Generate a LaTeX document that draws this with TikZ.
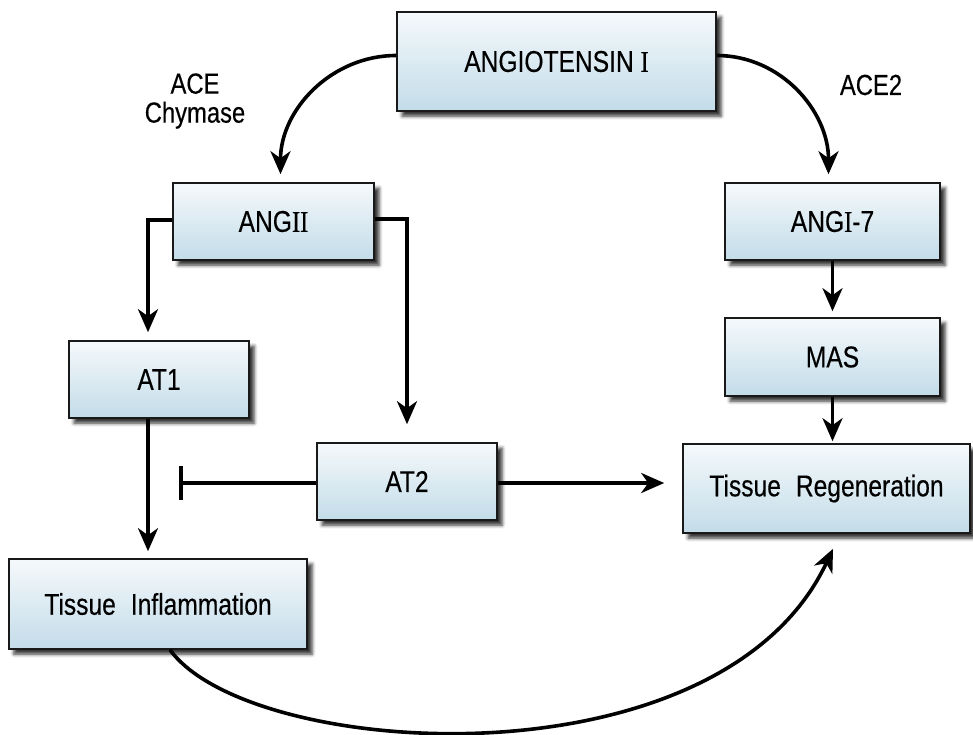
\documentclass[tikz,border=0pt]{standalone}
\usepackage{fontspec}
\setmainfont{Liberation Sans}[FakeStretch=0.82,FakeBold=0.35]
\newfontfamily\romI{Liberation Serif}[FakeStretch=0.82,FakeBold=0.35]
\usetikzlibrary{arrows.meta,shadows.blur,calc}
\definecolor{boxtop}{HTML}{F5F9FB}
\definecolor{boxbot}{HTML}{C3DCE9}
\begin{document}
\begin{tikzpicture}[x=1pt,y=-1pt,
 box/.style={draw=black!90, line width=1.6pt, top color=boxtop, bottom color=boxbot,
   blur shadow={shadow xshift=5pt,shadow yshift=-5pt,shadow blur radius=3.5pt,shadow opacity=80},
   inner sep=0pt, font=\fontsize{30}{34}\selectfont},
 conn/.style={line width=3.6pt, -{Stealth[length=23pt,width=20pt,inset=7pt]}},
 inhib/.style={line width=3.6pt, -{Bar[width=34pt]}},
 lbl/.style={font=\fontsize{29}{29}\selectfont, align=center}]
\useasboundingbox (0,0) rectangle (973,734);

\node[box, minimum width=319pt, minimum height=99pt] (A1) at (556.5,61.5) {ANGIOTENSIN {\romI I}};
\node[box, minimum width=201pt, minimum height=77pt] (ANGII) at (273.5,221.5) {ANG{\romI II}};
\node[box, minimum width=215pt, minimum height=77pt] (ANGI7) at (832.5,221.5) {ANG{\romI I}-7};
\node[box, minimum width=215pt, minimum height=78pt] (MAS) at (832.5,357) {MAS};
\node[box, minimum width=180pt, minimum height=77pt] (AT1) at (159,379.5) {AT1};
\node[box, minimum width=180pt, minimum height=77pt] (AT2) at (407,481.5) {AT2};
\node[box, minimum width=287pt, minimum height=89pt] (TR) at (826.5,488.5) {Tissue\hspace{0.5em}Regeneration};
\node[box, minimum width=298pt, minimum height=90pt] (TI) at (158,604) {Tissue\hspace{0.5em}Inflammation};

\node[lbl] (ace) at (195,101) {ACE\\Chymase};
\node[lbl] (ace2) at (871,85) {ACE2};

\draw[conn] ([yshift=6pt]A1.west) to[out=180,in=90] ([xshift=7pt,yshift=8pt]ANGII.north);
\draw[conn] ([yshift=6pt]A1.east) to[out=0,in=90] ([xshift=-4pt,yshift=8pt]ANGI7.north);

\draw[conn, shorten >=8pt] ([yshift=1.5pt]ANGII.west) -| ([xshift=-11pt]AT1.north);
\draw[conn, shorten >=18pt] ([yshift=2.5pt]ANGII.east) -| (AT2.north);
\draw[conn, shorten >=7pt] ([xshift=-11pt]AT1.south) -- ([xshift=-10pt]TI.north);

\coordinate (inh) at (179,483);
\draw[inhib] ([yshift=-1.5pt]AT2.west) -- (inh);
\draw[conn, shorten >=18pt] ([yshift=-1.5pt]AT2.east) -- (TR.west |- inh);

\draw[conn, shorten >=6pt] (ANGI7.south) -- (MAS.north);
\draw[conn, shorten >=2pt] (MAS.south) -- (MAS.south |- TR.north);

\coordinate (trb) at ([xshift=6.5pt,yshift=-15pt]TR.south);
\draw[conn] ([xshift=12pt]TI.south) .. controls (250,760) and (720,790) .. (trb);
\end{tikzpicture}
\end{document}
